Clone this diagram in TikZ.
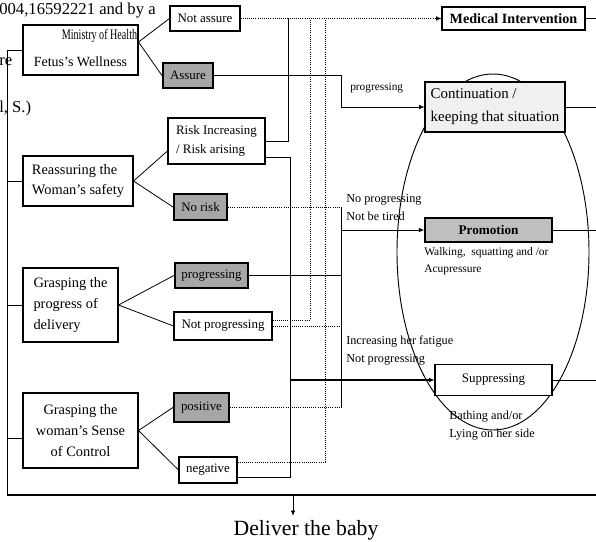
\documentclass[tikz,border=0pt]{standalone}
\usepackage{fontspec}
\setmainfont{Liberation Serif}
\usetikzlibrary{arrows.meta}

\begin{document}
\begin{tikzpicture}[x=0.75pt,y=-0.75pt,
  sz/.style 2 args={minimum width=#1*0.75pt, minimum height=#2*0.75pt},
  box/.style={draw, line width=0.8pt, fill=white, inner sep=0pt,
    font=\fontsize{10.8}{15.5}\selectfont},
  opt/.style={draw, line width=0.8pt, fill=white, inner sep=0pt, align=center,
    font=\fontsize{9.7}{14}\selectfont},
  optg/.style={opt, fill=black!35, line width=1.6pt},
  lbl/.style={inner sep=0pt, anchor=west, align=left,
    font=\fontsize{9.2}{13.5}\selectfont},
  note/.style={inner sep=0pt, anchor=west, font=\fontsize{12.5}{14}\selectfont},
  link/.style={line width=0.6pt},
  dots/.style={link, densely dotted},
  arr/.style={-{Latex[length=4pt,width=3.5pt]}}
]
\useasboundingbox (0,0) rectangle (596,542);

% cycle of care states
\draw[line width=0.7pt] (493,252) ellipse [x radius=72pt, y radius=133.5pt];

% assessment boxes on the left
\node[box, sz={115}{50}] (fetus) at (80.5,50) {};
\node[inner sep=0pt, font=\fontsize{10.5}{12}\selectfont] (fetustxt) at (80.5,62) {Fetus's Wellness};
\node[box, sz={110}{50}, align=left] (reassure) at (78,181) {Reassuring the\\Woman's safety};
\node[box, sz={95}{74}, align=left] (progress) at (70.5,305) {Grasping the\\progress of\\delivery};
\node[box, sz={115}{75}, align=center] (sense) at (80.5,430.5) {Grasping the\\woman's Sense\\of Control};

% fragments of running text
\node[note] (cite1) at (-1,11) {004,16592221 and by a};
\node[inner sep=0pt, font=\fontsize{11}{12}\selectfont] (cite2) at (99.5,36) {\scalebox{0.69}[1]{Ministry of Health}};
\node[note] (cite3) at (-1,62) {re};
\node[note] (cite4) at (-1,108) {l, S.)};

% findings
\node[opt, sz={70}{25}] (notassure) at (205,18.5) {Not assure};
\node[optg, sz={50}{25}] (assure) at (188,75.5) {Assure};
\node[opt, sz={97}{46}, align=left] (risk) at (216.5,141) {Risk Increasing\\/ Risk arising};
\node[optg, sz={53}{26}] (norisk) at (200.5,207) {No risk};
\node[optg, sz={73}{25}] (progopt) at (211.5,275.5) {progressing};
\node[opt, sz={98}{28}] (notprog) at (223,326) {Not progressing};
\node[optg, sz={55}{29}] (positive) at (201.5,407.5) {positive};
\node[opt, sz={58}{26}] (negative) at (208,470) {negative};

% care actions
\node[box, sz={143}{23}, font=\bfseries\fontsize{10.6}{12}\selectfont] (medical) at (513.5,18.5) {Medical Intervention};
\node[box, sz={140}{50}, fill=black!6, align=left, font=\fontsize{11.2}{17}\selectfont] (cont) at (495,107) {Continuation /\\keeping that situation};
\node[box, sz={127}{24}, fill=black!25, line width=1.2pt, font=\bfseries\fontsize{9.9}{12}\selectfont] (promo) at (488.5,230) {Promotion};
\node[box, sz={117}{31}, font=\fontsize{9.7}{12}\selectfont] (supp) at (493.5,380) {Suppressing};

% condition labels
\node[lbl, font=\fontsize{8.5}{12}\selectfont] (lprog) at (350,88) {progressing};
\node[lbl] (lnoprog) at (346,207.5) {No progressing\\Not be tired};
\node[lbl] (lfat) at (346,351) {Increasing her fatigue\\Not progressing};
\node[lbl, font=\fontsize{8.6}{12.8}\selectfont] (lwalk) at (424,261.5) {Walking,~ squatting and /or\\Acupressure};
\node[lbl] (lbath) at (449,426) {Bathing and/or\\Lying on her side};

\node[inner sep=0pt, font=\fontsize{16.3}{18}\selectfont] (deliver) at (306,530) {Deliver the baby};

% left trunk and bottom bar
\coordinate (trunkT) at (7,50);
\coordinate (trunkB) at (7,495);
\coordinate (baseR) at (596,495);
\draw[link] (trunkT) -- (trunkB);
\draw[line width=1.2pt] (trunkB) -- (baseR);
\draw[link] (trunkT) -- (fetus.west);
\draw[link] (trunkT |- reassure.west) -- (reassure.west);
\draw[link] (trunkT |- progress.west) -- (progress.west);
\coordinate (senseIn) at (7,438);
\draw[link] (senseIn) -- (senseIn -| sense.west);

% branches to findings
\coordinate (fetusOut) at ([yshift=6pt]fetus.east);
\draw[link] (fetusOut) -- (notassure.west);
\draw[link] (fetusOut) -- (assure.west);
\draw[link] (reassure.east) -- ([yshift=-7.5pt]risk.west);
\draw[link] (reassure.east) -- (norisk.west);
\draw[link] (progress.east) -- (progopt.west);
\draw[link] (progress.east) -- (notprog.west);
\draw[link] (sense.east) -- (positive.west);
\draw[link] (sense.east) -- (negative.west);

% routing columns
\coordinate (vA) at (288,0);
\coordinate (vB) at (290,0);
\coordinate (vC) at (310,0);
\coordinate (vD) at (325,0);
\coordinate (vE) at (341,0);

\coordinate (riskO2) at ([yshift=-12pt]risk.east);
\coordinate (npO1) at ([yshift=4.5pt]notprog.east);
\coordinate (negO1) at ([yshift=6pt]negative.east);
\coordinate (negO2) at ([yshift=-5.25pt]negative.east);

% to Medical Intervention
\draw[dots, arr] (notassure.east) -- (notassure.east -| medical.west);
\draw[link] (risk.east) -| (vA |- medical.west);
\draw[dots] (npO1) -| (vC |- medical.west);
\draw[dots] (negO1) -| (vD |- medical.west);

% to Continuation
\draw[link, arr] (assure.east) -| (vE |- cont.west) -- (cont.west);

% to Promotion
\draw[dots] (norisk.east) -- (norisk.east -| vE);
\draw[link] (progopt.east) -- (progopt.east -| vE);
\draw[dots] (notprog.east) -- (notprog.east -| vE);
\draw[dots] (positive.east) -- (positive.east -| vE);
\draw[link] (vE |- norisk.east) -- (vE |- positive.east);
\draw[link, arr] (vE |- promo.west) -- (promo.west);

% to Suppressing
\draw[link] (riskO2) -| (vB |- negO2) -- (negO2);
\draw[line width=1.8pt, arr] (vB |- supp.west) -- (supp.west);

% onward from each action
\draw[link] (medical.east) -- (medical.east -| baseR);
\draw[link] (cont.east) -- (cont.east -| baseR);
\draw[link] (promo.east) -- (promo.east -| baseR);
\draw[link] (supp.east) -- (supp.east -| baseR);

% final outcome
\coordinate (dArr) at (293,495);
\draw[link, arr, shorten >=3pt] (dArr) -- (dArr |- deliver.north);
\end{tikzpicture}
\end{document}
